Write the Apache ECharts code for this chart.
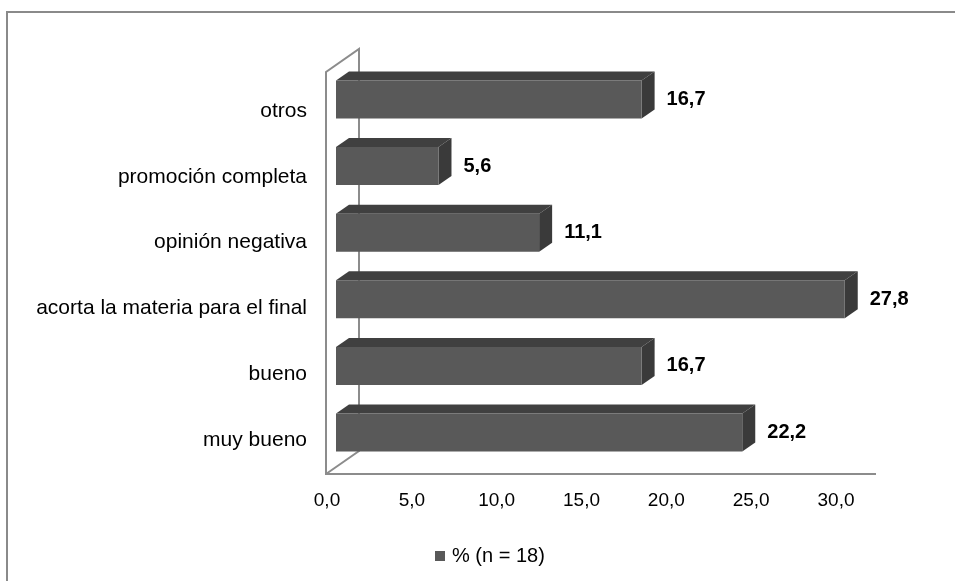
<!DOCTYPE html>
<html>
<head>
<meta charset="utf-8">
<script src="https://cdn.jsdelivr.net/npm/echarts@6/dist/echarts.min.js"></script>
<style>
html,body{margin:0;padding:0;background:#fff;}
#c{width:955px;height:581px;}
</style>
</head>
<body>
<div id="c"></div>
<script>
// Data
const categories = ['muy bueno', 'bueno', 'acorta la materia para el final', 'opinión negativa', 'promoción completa', 'otros'];
const values = [22.2, 16.7, 27.8, 11.1, 5.6, 16.7];
const seriesName = '% (n = 18)';
const xTicks = [0, 5, 10, 15, 20, 25, 30];

const FONT = 'Liberation Sans, Arial, sans-serif';
const DX = 13, DY = 9, BAR_H = 38;
const fmt = v => v.toFixed(1).replace('.', ',');

const chart = echarts.init(document.getElementById('c'), null, {renderer: 'canvas'});

const wallColor = '#8c8c8c';

const option = {
  backgroundColor: '#ffffff',
  animation: false,
  textStyle: {fontFamily: FONT},
  grid: [
    {left: 336, right: 70, top: 66.2, bottom: 115.2},
    {left: 327, right: 119, top: 78, bottom: 108}
  ],
  xAxis: [
    {type: 'value', gridIndex: 0, min: 0, max: 30, interval: 5,
     axisLine: {show: false}, axisTick: {show: false}, axisLabel: {show: false}, splitLine: {show: false}},
    {type: 'value', gridIndex: 1, min: xTicks[0], max: xTicks[xTicks.length - 1], interval: 5,
     axisLine: {show: false}, axisTick: {show: false}, splitLine: {show: false},
     axisLabel: {margin: 18, fontSize: 19, color: '#000', fontFamily: FONT, formatter: v => fmt(v)}}
  ],
  yAxis: [
    {type: 'category', gridIndex: 0, data: categories,
     axisLine: {show: false}, axisTick: {show: false}, axisLabel: {show: false}, splitLine: {show: false}},
    {type: 'category', gridIndex: 1, data: categories,
     axisLine: {show: false}, axisTick: {show: false}, splitLine: {show: false},
     axisLabel: {margin: 20, fontSize: 21, color: '#000', fontFamily: FONT}}
  ],
  legend: {
    data: [seriesName], bottom: 15, left: 435, icon: 'rect', itemWidth: 10, itemHeight: 10, itemGap: 6, padding: 0,
    textStyle: {fontSize: 20, color: '#000', fontFamily: FONT, padding: [0, 0, 0, 2]}
  },
  graphic: [
    // outer frame
    {type: 'polyline', shape: {points: [[7, 600], [7, 12], [960, 12]]}, style: {stroke: '#8a8a8a', lineWidth: 2, fill: null}, silent: true},
    // wall & floor
    {type: 'polyline', shape: {points: [[876, 474], [326, 474], [326, 72], [359, 49], [359, 451], [326, 474]]},
     style: {stroke: wallColor, lineWidth: 2, fill: null}, silent: true, z: 0}
  ],
  series: [{
    name: seriesName,
    type: 'custom',
    xAxisIndex: 0, yAxisIndex: 0,
    itemStyle: {color: '#595959'},
    data: values.map((v, i) => [v, i]),
    renderItem: function (params, api) {
      const v = api.value(0), c = api.value(1);
      const p0 = api.coord([0, c]);
      const p1 = api.coord([v, c]);
      const x0 = p0[0], x1 = p1[0];
      const yT = p0[1] - BAR_H / 2, yB = p0[1] + BAR_H / 2;
      return {
        type: 'group',
        children: [
          {type: 'polygon', shape: {points: [[x0, yT], [x0 + DX, yT - DY], [x1 + DX, yT - DY], [x1, yT]]},
           style: {fill: '#404040'}},
          {type: 'polygon', shape: {points: [[x1, yT], [x1 + DX, yT - DY], [x1 + DX, yB - DY], [x1, yB]]},
           style: {fill: '#3a3a3a'}},
          {type: 'rect', shape: {x: x0, y: yT, width: x1 - x0, height: yB - yT},
           style: {fill: '#595959'}},
          {type: 'text', x: x1 + DX + 12, y: p0[1],
           style: {text: fmt(v), fill: '#000', font: 'bold 20px ' + FONT, textAlign: 'left', textVerticalAlign: 'middle'}}
        ]
      };
    }
  }]
};
chart.setOption(option);
</script>
</body>
</html>
